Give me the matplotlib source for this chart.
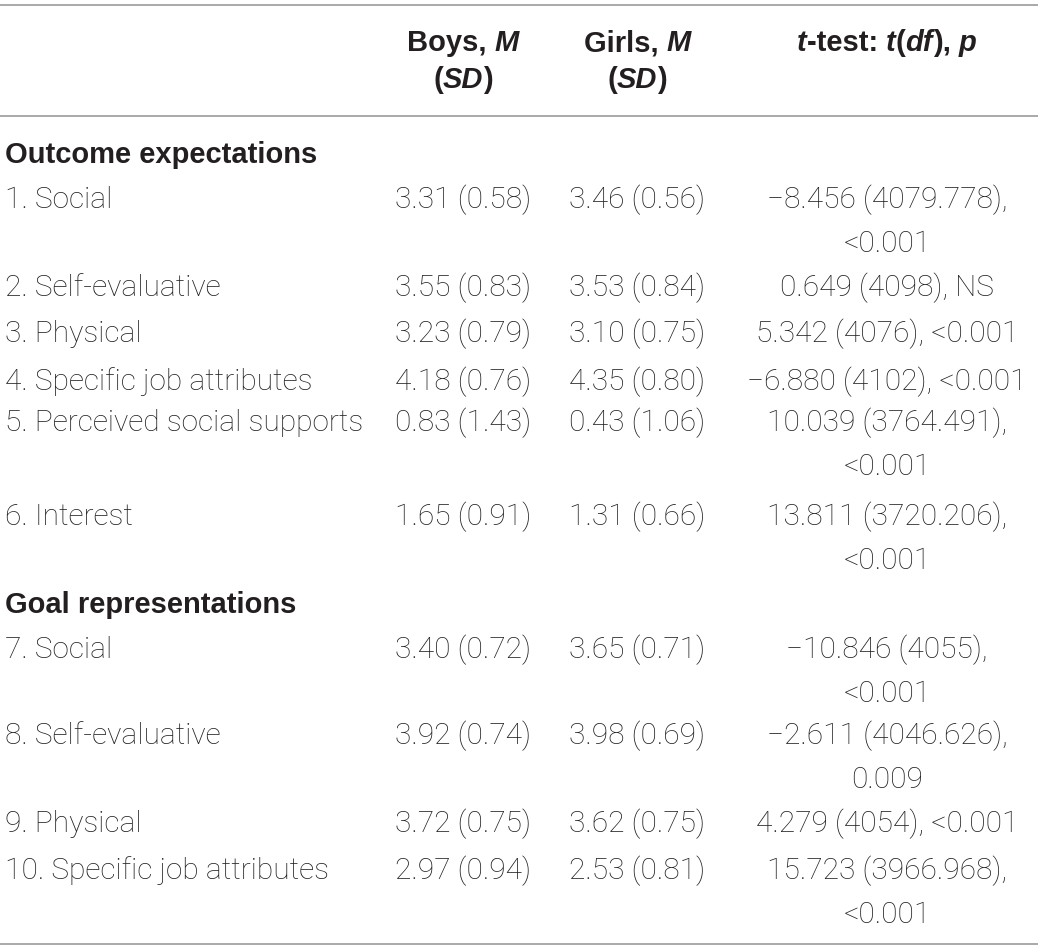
import matplotlib
matplotlib.use("Agg")
import matplotlib.pyplot as plt

# ---- data ----
section_titles = ["Outcome expectations", "Goal representations"]
row_labels = ["1. Social", "2. Self-evaluative", "3. Physical",
              "4. Specific job attributes", "5. Perceived social supports",
              "6. Interest", "7. Social", "8. Self-evaluative", "9. Physical",
              "10. Specific job attributes"]
boys_m = [3.31, 3.55, 3.23, 4.18, 0.83, 1.65, 3.40, 3.92, 3.72, 2.97]
boys_sd = [0.58, 0.83, 0.79, 0.76, 1.43, 0.91, 0.72, 0.74, 0.75, 0.94]
girls_m = [3.46, 3.53, 3.10, 4.35, 0.43, 1.31, 3.65, 3.98, 3.62, 2.53]
girls_sd = [0.56, 0.84, 0.75, 0.80, 1.06, 0.66, 0.71, 0.69, 0.75, 0.81]
t_stat = [-8.456, 0.649, 5.342, -6.880, 10.039, 13.811, -10.846, -2.611, 4.279, 15.723]
t_df = ["4079.778", "4098", "4076", "4102", "3764.491", "3720.206",
        "4055", "4046.626", "4054", "3966.968"]
p_val = ["<0.001", "NS", "<0.001", "<0.001", "<0.001", "<0.001",
         "<0.001", "0.009", "<0.001", "<0.001"]

# ---- layout (pixel positions, figure is 1042 x 951) ----
W, H = 1042, 951
wrap = [True, False, False, False, True, True, True, True, False, True]
section_y = [163, 613]
row_y = [208, 296, 342, 390, 431, 525, 658, 744, 832, 879]
line_gap = 44
rule_y = [5, 116, 944]
header_y = [51, 88]
x_label = 5
x_boys = 463
x_girls = 637
x_t = 887
FS = 21.5
FS_B = 21
COL = "#231f20"
FAM = ["Roboto", "Liberation Sans", "DejaVu Sans"]
FAM_B = ["Liberation Sans", "DejaVu Sans"]
W_NORMAL = "light"

fig = plt.figure(figsize=(W / 100, H / 100), dpi=100)
ax = fig.add_axes([0, 0, 1, 1])
ax.set_xlim(0, W)
ax.set_ylim(H, 0)
ax.axis("off")
fig.canvas.draw()
renderer = fig.canvas.get_renderer()


def rich(x, y, segs, ha="center"):
    objs = []
    for s, w, st in segs:
        t = ax.text(0, y, s, fontsize=FS_B, fontweight=w, fontstyle=st,
                    family=FAM_B, color=COL, ha="left", va="baseline")
        objs.append(t)
    widths = [t.get_window_extent(renderer).width for t in objs]
    total = sum(widths)
    if ha == "center":
        cx = x - total / 2
    elif ha == "right":
        cx = x - total
    else:
        cx = x
    for t, w in zip(objs, widths):
        t.set_x(cx)
        cx += w


def plain(x, y, s, ha="center"):
    ax.text(x, y, s, fontsize=FS, fontweight=W_NORMAL, family=FAM, color=COL,
            ha=ha, va="baseline")


def bold(x, y, s, ha="left"):
    ax.text(x, y, s, fontsize=FS_B, fontweight="bold", family=FAM_B, color=COL,
            ha=ha, va="baseline")


def fmt_num(v):
    s = f"{abs(v):.3f}"
    return ("\u2212" + s) if v < 0 else s


# rules
ax.hlines(rule_y, 0, 1038, color="#9b9b9b", linewidth=1.2)

# header
B, I, N = "bold", "italic", "normal"
rich(x_boys, header_y[0], [("Boys, ", B, N), ("M", B, I)])
rich(x_boys, header_y[1], [("(", B, N), ("SD", B, I), (")", B, N)])
rich(x_girls, header_y[0], [("Girls, ", B, N), ("M", B, I)])
rich(x_girls, header_y[1], [("(", B, N), ("SD", B, I), (")", B, N)])
rich(x_t, header_y[0], [("t", B, I), ("-test: ", B, N), ("t", B, I), ("(", B, N),
                        ("df", B, I), ("), ", B, N), ("p", B, I)])

# sections
for title, y in zip(section_titles, section_y):
    bold(x_label, y, title)

# rows
for i, lab in enumerate(row_labels):
    y = row_y[i]
    plain(x_label, y, lab, ha="left")
    plain(x_boys, y, f"{boys_m[i]:.2f} ({boys_sd[i]:.2f})")
    plain(x_girls, y, f"{girls_m[i]:.2f} ({girls_sd[i]:.2f})")
    if wrap[i]:
        plain(x_t, y, f"{fmt_num(t_stat[i])} ({t_df[i]}),")
        plain(x_t, y + line_gap, p_val[i])
    else:
        plain(x_t, y, f"{fmt_num(t_stat[i])} ({t_df[i]}), {p_val[i]}")

fig.savefig("out.png", dpi=100, facecolor="white")
